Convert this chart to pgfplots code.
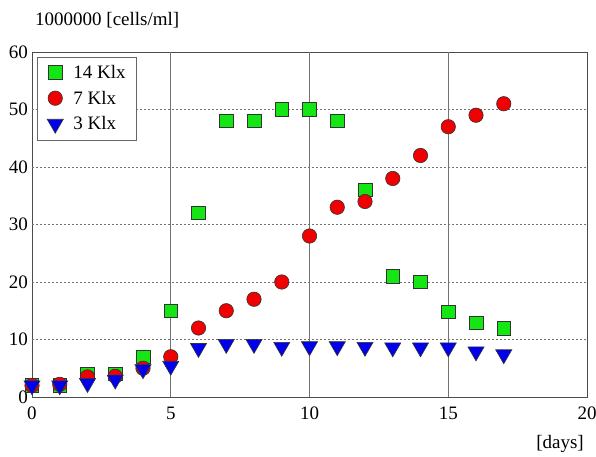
\documentclass[border=0pt]{standalone}
\usepackage{fontspec}
\setmainfont{Liberation Serif}
\usepackage{pgfplots}
\pgfplotsset{compat=1.18}
\definecolor{mgreen}{RGB}{20,230,20}
\definecolor{mred}{RGB}{240,0,0}
\definecolor{mblue}{RGB}{0,0,235}
\newcommand{\bigf}{\fontsize{19}{22}\selectfont}
\begin{document}
\begin{tikzpicture}[x=1pt,y=1pt]
\useasboundingbox (-32,-60) rectangle (564,397);
\begin{axis}[
  at={(0,0)}, anchor=south west,
  scale only axis, width=555pt, height=345pt,
  xmin=0, xmax=20, ymin=0, ymax=60,
  xtick={0,5,10,15,20}, ytick={0,10,20,30,40,50,60},
  /pgf/number format/assume math mode=true,
  ticklabel style={font=\bigf},
  major tick length=0pt,
  axis line style={draw=black!70},
  extra x ticks={5,10,15}, extra x tick labels={},
  extra x tick style={grid=major, major grid style={draw=black!55, solid, line width=0.6pt}},
  extra y ticks={10,20,30,40,50}, extra y tick labels={},
  extra y tick style={grid=major, major grid style={draw=black!55, dashed, dash pattern=on 2pt off 2pt, line width=0.8pt}},
  xticklabel style={inner sep=2pt, yshift=-8pt},
  yticklabel style={inner sep=2pt, xshift=-2pt},
  clip=false,
  legend style={at={(5/555,340/345)}, anchor=north west, draw=black!60, fill=white,
    font=\bigf, row sep=9pt, inner xsep=10pt, inner ysep=7pt,
    /tikz/every odd column/.append style={column sep=9pt},
    nodes={inner sep=1pt}},
  legend image code/.code={\draw[mark repeat=2,mark phase=2] plot coordinates {(0cm,0cm)(0.2cm,0cm)(0.4cm,0cm)};},
  legend cell align=left,
]
\addplot[only marks, mark=square*, mark size=6.8pt, mark options={fill=mgreen, draw=black!80, line width=0.6pt}]
coordinates {(0,2)(1,2)(2,4)(3,4)(4,7)(5,15)(6,32)(7,48)(8,48)(9,50)(10,50)(11,48)(12,36)(13,21)(14,20)(15,14.8)(16,12.9)(17,11.9)};
\addlegendentry{14 Klx}
\addplot[only marks, mark=*, mark size=7.2pt, mark options={fill=mred, draw=black!80, line width=0.6pt}]
coordinates {(0,2)(1,2.2)(2,3.5)(3,3.6)(4,5)(5,7)(6,12)(7,15)(8,17)(9,20)(10,28)(11,33)(12,34)(13,38)(14,42)(15,47)(16,49)(17,51)};
\addlegendentry{7 Klx}
\addplot[only marks, mark=triangle*, mark size=9.3pt, mark options={rotate=180, fill=mblue, draw=black!80, line width=0.6pt}]
coordinates {(0,2)(1,2)(2,2.4)(3,3)(4,4.8)(5,5.4)(6,8.5)(7,9.2)(8,9.2)(9,8.7)(10,8.8)(11,8.8)(12,8.7)(13,8.6)(14,8.6)(15,8.6)(16,7.9)(17,7.4)};
\addlegendentry{3 Klx}
\end{axis}
\node[anchor=west, font=\bigf, inner sep=0pt] at (3,377) {1000000 [cells/ml]};
\node[font=\bigf] at (528,-47) {[days]};
\end{tikzpicture}
\end{document}
